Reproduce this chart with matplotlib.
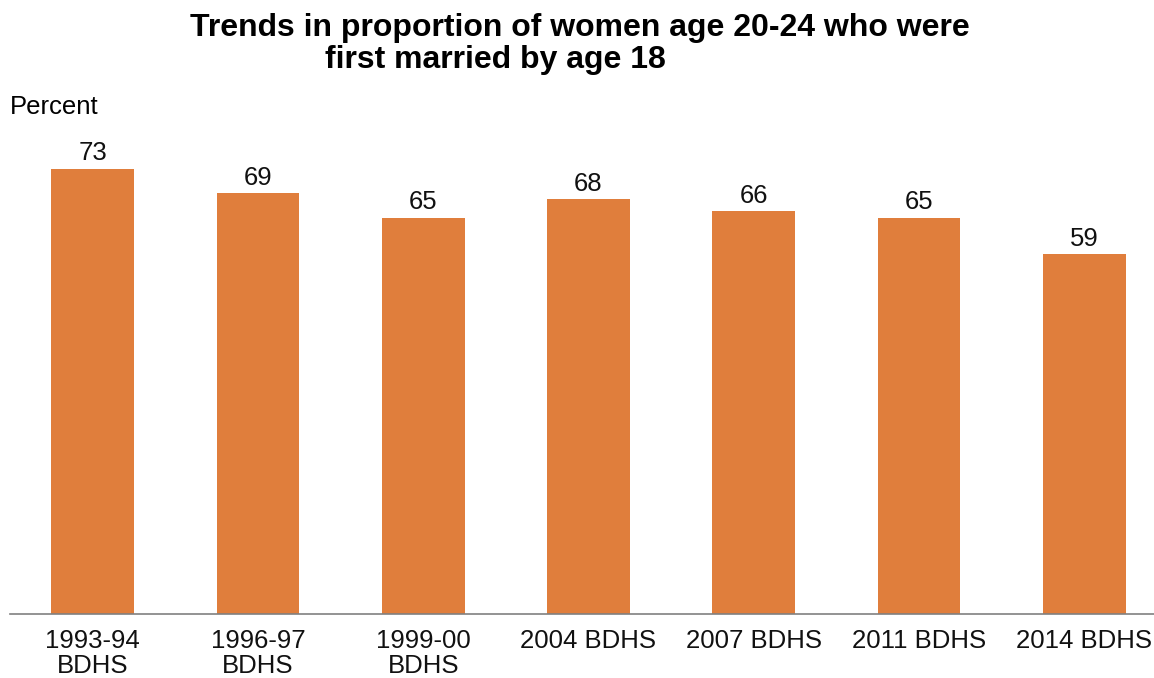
"""
Bar chart: women age 20-24 first married by age 18
"""
import matplotlib
matplotlib.use('Agg')
import matplotlib.pyplot as plt

surveys = ['1993-94\nBDHS', '1996-97\nBDHS', '1999-00\nBDHS', '2004 BDHS',
           '2007 BDHS', '2011 BDHS', '2014 BDHS']
percent = [73, 69, 65, 68, 66, 65, 59]

plt.rcParams['font.family'] = ['Liberation Sans', 'DejaVu Sans']

fig = plt.figure(figsize=(11.54, 6.78), dpi=100)
# axes extends slightly past the right edge, as in the original
ax = fig.add_axes([10 / 1154, (678 - 614) / 678, 1157 / 1154, (614 - 130) / 678])

x = range(len(surveys))
bars = ax.bar(x, percent, width=0.5, color='#E07E3C')
for b, v in zip(bars, percent):
    ax.text(b.get_x() + b.get_width() / 2, v + 0.55, str(v),
            ha='center', va='bottom', fontsize=18.5, color='#111111')

ax.set_xlim(-0.5, 6.5)
ax.set_ylim(0, (614 - 130) / 6.1)
ax.set_xticks(list(x))
ax.set_xticklabels(surveys, fontsize=18.5, color='#111111', linespacing=1.05)
ax.tick_params(axis='x', length=0, pad=11)
ax.set_yticks([])
for s in ['top', 'right', 'left']:
    ax.spines[s].set_visible(False)
ax.spines['bottom'].set_color('#808080')
ax.spines['bottom'].set_linewidth(1.2)

fig.text(10 / 1154, 1 - 107 / 678, 'Percent', fontsize=18.5, va='center', ha='left')
fig.text(580 / 1154, 1 - 28 / 678, 'Trends in proportion of women age 20-24 who were',
         fontsize=23, fontweight='bold', ha='center', va='center')
fig.text(495 / 1154, 1 - 60 / 678, 'first married by age 18',
         fontsize=23, fontweight='bold', ha='center', va='center')

fig.savefig('out.png', dpi=100)
